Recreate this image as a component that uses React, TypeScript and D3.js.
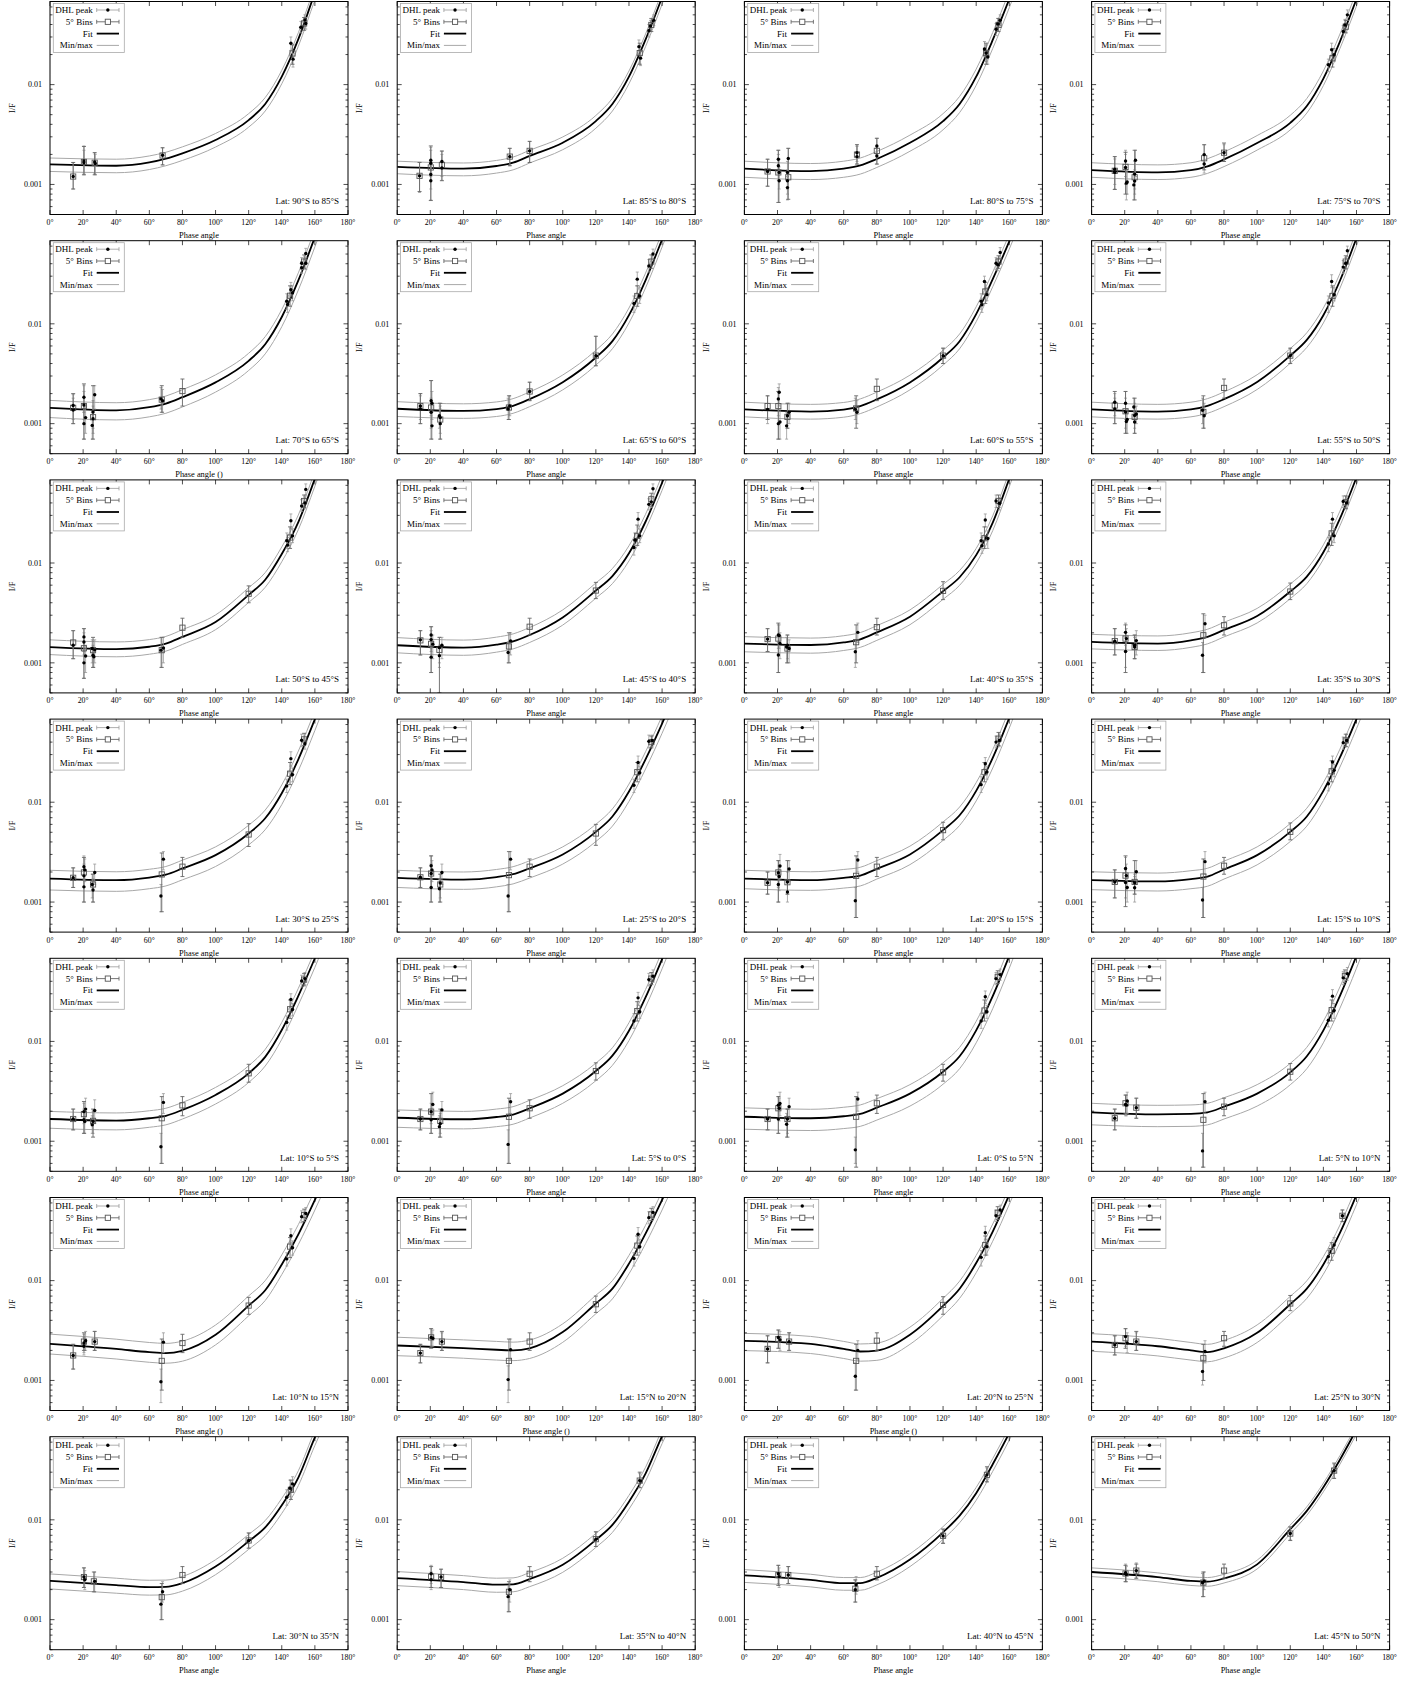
import React from "react";
import * as d3 from "d3";

// ---------------- data ----------------
const PHASE_GRID = [0, 40, 60, 70, 80, 100, 120, 130, 140, 150, 160, 170];
const X_TICKS = [0, 20, 40, 60, 80, 100, 120, 140, 160, 180];
const X_TICK_LABELS = ["0°", "20°", "40°", "60°", "80°", "100°", "120°", "140°", "160°", "180°"];
const Y_TICKS = [0.001, 0.01];
const Y_TICK_LABELS = ["0.001", "0.01"];
const LEGEND_LABELS = ["DHL peak", "5° Bins", "Fit", "Min/max"];

const LAT_LABELS = [
  "Lat: 90°S to 85°S", "Lat: 85°S to 80°S", "Lat: 80°S to 75°S", "Lat: 75°S to 70°S",
  "Lat: 70°S to 65°S", "Lat: 65°S to 60°S", "Lat: 60°S to 55°S", "Lat: 55°S to 50°S",
  "Lat: 50°S to 45°S", "Lat: 45°S to 40°S", "Lat: 40°S to 35°S", "Lat: 35°S to 30°S",
  "Lat: 30°S to 25°S", "Lat: 25°S to 20°S", "Lat: 20°S to 15°S", "Lat: 15°S to 10°S",
  "Lat: 10°S to 5°S", "Lat: 5°S to 0°S", "Lat: 0°S to 5°N", "Lat: 5°N to 10°N",
  "Lat: 10°N to 15°N", "Lat: 15°N to 20°N", "Lat: 20°N to 25°N", "Lat: 25°N to 30°N",
  "Lat: 30°N to 35°N", "Lat: 35°N to 40°N", "Lat: 40°N to 45°N", "Lat: 45°N to 50°N",
];

const X_LABELS = [
  "Phase angle", "Phase angle", "Phase angle", "Phase angle",
  "Phase angle ()", "Phase angle", "Phase angle", "Phase angle",
  "Phase angle", "Phase angle", "Phase angle", "Phase angle",
  "Phase angle", "Phase angle", "Phase angle", "Phase angle",
  "Phase angle", "Phase angle", "Phase angle", "Phase angle",
  "Phase angle ()", "Phase angle ()", "Phase angle ()", "Phase angle",
  "Phase angle", "Phase angle", "Phase angle", "Phase angle",
];

const FIT = [
  [0.00159, 0.00154, 0.00166, 0.00181, 0.00205, 0.00279, 0.00441, 0.0064, 0.012, 0.0285, 0.083, 0.23],
  [0.0015, 0.00144, 0.00153, 0.00165, 0.00193, 0.00262, 0.00431, 0.0064, 0.012, 0.0282, 0.075, 0.21],
  [0.00144, 0.00136, 0.00144, 0.00155, 0.0018, 0.00262, 0.0043, 0.0064, 0.012, 0.028, 0.072, 0.197],
  [0.00139, 0.00132, 0.00139, 0.00152, 0.00178, 0.0026, 0.00414, 0.0061, 0.0115, 0.027, 0.072, 0.204],
  [0.00144, 0.00136, 0.00146, 0.00159, 0.00184, 0.00259, 0.00426, 0.00625, 0.0117, 0.0272, 0.0738, 0.213],
  [0.00141, 0.00134, 0.0014, 0.00151, 0.00176, 0.0026, 0.0046, 0.0067, 0.0122, 0.0273, 0.07, 0.191],
  [0.00139, 0.00132, 0.00138, 0.0015, 0.00175, 0.00259, 0.0046, 0.0067, 0.0125, 0.028, 0.0668, 0.17],
  [0.00139, 0.00132, 0.00139, 0.00151, 0.00176, 0.00262, 0.0048, 0.0069, 0.0122, 0.027, 0.0721, 0.205],
  [0.00144, 0.00137, 0.00145, 0.00156, 0.00182, 0.00256, 0.0048, 0.0068, 0.0123, 0.0257, 0.07, 0.203],
  [0.0015, 0.00142, 0.00152, 0.00164, 0.0019, 0.00285, 0.0053, 0.0074, 0.0125, 0.0259, 0.0637, 0.168],
  [0.00156, 0.00151, 0.0016, 0.00172, 0.00202, 0.0029, 0.00522, 0.0072, 0.012, 0.0254, 0.07, 0.206],
  [0.00162, 0.00156, 0.00168, 0.00182, 0.00214, 0.00295, 0.00518, 0.0073, 0.0128, 0.0278, 0.0721, 0.199],
  [0.00172, 0.00166, 0.00176, 0.00188, 0.00217, 0.00295, 0.00486, 0.0069, 0.0123, 0.0269, 0.0679, 0.183],
  [0.00175, 0.00168, 0.00178, 0.0019, 0.00218, 0.003, 0.00505, 0.0072, 0.0128, 0.0269, 0.0614, 0.149],
  [0.00172, 0.00166, 0.00175, 0.00184, 0.00215, 0.003, 0.00525, 0.0074, 0.013, 0.0278, 0.07, 0.187],
  [0.00166, 0.00161, 0.0017, 0.0018, 0.00212, 0.00295, 0.00505, 0.0072, 0.013, 0.0281, 0.0681, 0.175],
  [0.00167, 0.00161, 0.0017, 0.0018, 0.00206, 0.00291, 0.00479, 0.007, 0.013, 0.0286, 0.0681, 0.172],
  [0.00172, 0.00166, 0.00175, 0.00185, 0.00214, 0.003, 0.00505, 0.0072, 0.0128, 0.0276, 0.0668, 0.172],
  [0.00176, 0.0017, 0.00178, 0.00188, 0.00217, 0.003, 0.00497, 0.0071, 0.0129, 0.0284, 0.0721, 0.194],
  [0.00195, 0.00186, 0.00188, 0.00195, 0.00222, 0.003, 0.0049, 0.0071, 0.0129, 0.0286, 0.0721, 0.193],
  [0.00233, 0.00207, 0.00192, 0.00188, 0.00198, 0.00287, 0.00562, 0.008, 0.0145, 0.0291, 0.0644, 0.151],
  [0.00224, 0.00211, 0.00203, 0.002, 0.0021, 0.00305, 0.0059, 0.0083, 0.0148, 0.0296, 0.0645, 0.149],
  [0.00249, 0.00232, 0.00207, 0.00195, 0.00199, 0.00287, 0.00558, 0.0083, 0.015, 0.031, 0.0725, 0.18],
  [0.00245, 0.0022, 0.002, 0.00192, 0.0021, 0.003, 0.0058, 0.0083, 0.0145, 0.03, 0.072, 0.18],
  [0.00245, 0.00222, 0.00212, 0.00213, 0.00232, 0.0034, 0.0061, 0.0084, 0.014, 0.0265, 0.067, 0.15],
  [0.00261, 0.00238, 0.00224, 0.00226, 0.00255, 0.00355, 0.0063, 0.0089, 0.0152, 0.029, 0.069, 0.15],
  [0.00278, 0.0025, 0.00232, 0.00232, 0.00262, 0.004, 0.0075, 0.011, 0.0185, 0.036, 0.074, 0.16],
  [0.003, 0.00267, 0.00244, 0.0024, 0.00259, 0.00358, 0.00806, 0.0123, 0.0212, 0.04, 0.08, 0.16],
];

const FIT_MAX = [
  [0.00184, 0.00179, 0.00193, 0.0021, 0.00238, 0.00324, 0.00512, 0.00742, 0.0139, 0.0331, 0.0963, 0.267],
  [0.00171, 0.00164, 0.00174, 0.00188, 0.0022, 0.00299, 0.00491, 0.0073, 0.0137, 0.0321, 0.0855, 0.239],
  [0.00171, 0.00162, 0.00171, 0.00184, 0.00214, 0.00312, 0.00512, 0.00762, 0.0143, 0.0333, 0.0857, 0.234],
  [0.00165, 0.00157, 0.00165, 0.00181, 0.00212, 0.00309, 0.00493, 0.00726, 0.0137, 0.0321, 0.0857, 0.243],
  [0.00171, 0.00162, 0.00174, 0.00189, 0.00219, 0.00308, 0.00507, 0.00744, 0.0139, 0.0324, 0.0878, 0.253],
  [0.00166, 0.00158, 0.00165, 0.00178, 0.00208, 0.00307, 0.00543, 0.00791, 0.0144, 0.0322, 0.0826, 0.225],
  [0.00164, 0.00156, 0.00163, 0.00177, 0.00207, 0.00306, 0.00543, 0.00791, 0.0148, 0.033, 0.0788, 0.201],
  [0.00164, 0.00156, 0.00164, 0.00178, 0.00208, 0.00309, 0.00566, 0.00814, 0.0144, 0.0319, 0.0851, 0.242],
  [0.0017, 0.00162, 0.00171, 0.00184, 0.00215, 0.00302, 0.00566, 0.00802, 0.0145, 0.0303, 0.0826, 0.24],
  [0.00179, 0.00169, 0.00181, 0.00195, 0.00226, 0.00339, 0.00631, 0.00881, 0.0149, 0.0308, 0.0758, 0.2],
  [0.00183, 0.00177, 0.00187, 0.00201, 0.00236, 0.00339, 0.00611, 0.00842, 0.014, 0.0297, 0.0819, 0.241],
  [0.00193, 0.00186, 0.002, 0.00217, 0.00255, 0.00351, 0.00616, 0.00869, 0.0152, 0.0331, 0.0858, 0.237],
  [0.00208, 0.00201, 0.00213, 0.00227, 0.00263, 0.00357, 0.00588, 0.00835, 0.0149, 0.0325, 0.0822, 0.221],
  [0.00208, 0.002, 0.00212, 0.00226, 0.00259, 0.00357, 0.00601, 0.00857, 0.0152, 0.032, 0.0731, 0.177],
  [0.00208, 0.00201, 0.00212, 0.00223, 0.0026, 0.00363, 0.00635, 0.00895, 0.0157, 0.0336, 0.0847, 0.226],
  [0.00201, 0.00195, 0.00206, 0.00218, 0.00257, 0.00357, 0.00611, 0.00871, 0.0157, 0.034, 0.0824, 0.212],
  [0.00199, 0.00192, 0.00202, 0.00214, 0.00245, 0.00346, 0.0057, 0.00833, 0.0155, 0.034, 0.081, 0.205],
  [0.00206, 0.00199, 0.0021, 0.00222, 0.00257, 0.0036, 0.00606, 0.00864, 0.0154, 0.0331, 0.0802, 0.206],
  [0.00216, 0.00209, 0.00219, 0.00231, 0.00267, 0.00369, 0.00611, 0.00873, 0.0159, 0.0349, 0.0887, 0.239],
  [0.0024, 0.00229, 0.00231, 0.0024, 0.00273, 0.00369, 0.00603, 0.00873, 0.0159, 0.0352, 0.0887, 0.237],
  [0.00291, 0.00259, 0.0024, 0.00235, 0.00248, 0.00359, 0.00703, 0.01, 0.0181, 0.0364, 0.0805, 0.189],
  [0.00271, 0.00255, 0.00246, 0.00242, 0.00254, 0.00369, 0.00714, 0.01, 0.0179, 0.0358, 0.078, 0.18],
  [0.00296, 0.00276, 0.00246, 0.00232, 0.00237, 0.00342, 0.00664, 0.00988, 0.0179, 0.0369, 0.0863, 0.214],
  [0.00294, 0.00264, 0.0024, 0.0023, 0.00252, 0.0036, 0.00696, 0.00996, 0.0174, 0.036, 0.0864, 0.216],
  [0.00287, 0.0026, 0.00248, 0.00249, 0.00271, 0.00398, 0.00714, 0.00983, 0.0164, 0.031, 0.0784, 0.176],
  [0.00303, 0.00276, 0.0026, 0.00262, 0.00296, 0.00412, 0.00731, 0.0103, 0.0176, 0.0336, 0.08, 0.174],
  [0.00317, 0.00285, 0.00264, 0.00264, 0.00299, 0.00456, 0.00855, 0.0125, 0.0211, 0.041, 0.0844, 0.182],
  [0.0033, 0.00294, 0.00268, 0.00264, 0.00285, 0.00394, 0.00887, 0.0135, 0.0233, 0.044, 0.088, 0.176],
];

const FIT_MIN = [
  [0.00135, 0.00131, 0.00141, 0.00154, 0.00174, 0.00237, 0.00375, 0.00544, 0.0102, 0.0242, 0.0706, 0.196],
  [0.00128, 0.00122, 0.0013, 0.0014, 0.00164, 0.00223, 0.00366, 0.00544, 0.0102, 0.024, 0.0638, 0.179],
  [0.00118, 0.00112, 0.00118, 0.00127, 0.00148, 0.00215, 0.00353, 0.00525, 0.00984, 0.023, 0.059, 0.162],
  [0.00118, 0.00112, 0.00118, 0.00129, 0.00151, 0.00221, 0.00352, 0.00519, 0.00978, 0.023, 0.0612, 0.173],
  [0.00115, 0.00109, 0.00117, 0.00127, 0.00147, 0.00207, 0.00341, 0.005, 0.00936, 0.0218, 0.059, 0.17],
  [0.00118, 0.00113, 0.00118, 0.00127, 0.00148, 0.00218, 0.00386, 0.00563, 0.0102, 0.0229, 0.0588, 0.16],
  [0.00117, 0.00111, 0.00116, 0.00126, 0.00147, 0.00218, 0.00386, 0.00563, 0.0105, 0.0235, 0.0561, 0.143],
  [0.00117, 0.00111, 0.00117, 0.00127, 0.00148, 0.0022, 0.00403, 0.0058, 0.0102, 0.0227, 0.0606, 0.172],
  [0.00121, 0.00115, 0.00122, 0.00131, 0.00153, 0.00215, 0.00403, 0.00571, 0.0103, 0.0216, 0.0588, 0.171],
  [0.00126, 0.00119, 0.00128, 0.00138, 0.0016, 0.00239, 0.00445, 0.00622, 0.0105, 0.0218, 0.0535, 0.141],
  [0.00129, 0.00125, 0.00133, 0.00143, 0.00168, 0.00241, 0.00433, 0.00598, 0.00996, 0.0211, 0.0581, 0.171],
  [0.00138, 0.00133, 0.00143, 0.00155, 0.00182, 0.00251, 0.0044, 0.00621, 0.0109, 0.0236, 0.0613, 0.169],
  [0.00132, 0.00128, 0.00136, 0.00145, 0.00167, 0.00227, 0.00374, 0.00531, 0.00947, 0.0207, 0.0523, 0.141],
  [0.0014, 0.00134, 0.00142, 0.00152, 0.00174, 0.0024, 0.00404, 0.00576, 0.0102, 0.0215, 0.0491, 0.119],
  [0.00136, 0.00131, 0.00138, 0.00145, 0.0017, 0.00237, 0.00415, 0.00585, 0.0103, 0.022, 0.0553, 0.148],
  [0.00133, 0.00129, 0.00136, 0.00144, 0.0017, 0.00236, 0.00404, 0.00576, 0.0104, 0.0225, 0.0545, 0.14],
  [0.00135, 0.0013, 0.00138, 0.00146, 0.00167, 0.00236, 0.00388, 0.00567, 0.0105, 0.0232, 0.0552, 0.139],
  [0.00138, 0.00133, 0.0014, 0.00148, 0.00171, 0.0024, 0.00404, 0.00576, 0.0102, 0.0221, 0.0534, 0.138],
  [0.00132, 0.00128, 0.00134, 0.00141, 0.00163, 0.00225, 0.00373, 0.00533, 0.00968, 0.0213, 0.0541, 0.146],
  [0.00146, 0.0014, 0.00141, 0.00146, 0.00167, 0.00225, 0.00368, 0.00533, 0.00968, 0.0215, 0.0541, 0.145],
  [0.00184, 0.00164, 0.00152, 0.00149, 0.00156, 0.00227, 0.00444, 0.00632, 0.0115, 0.023, 0.0509, 0.119],
  [0.00177, 0.00167, 0.0016, 0.00158, 0.00166, 0.00241, 0.00466, 0.00656, 0.0117, 0.0234, 0.051, 0.118],
  [0.00199, 0.00186, 0.00166, 0.00156, 0.00159, 0.0023, 0.00446, 0.00664, 0.012, 0.0248, 0.058, 0.144],
  [0.00196, 0.00176, 0.0016, 0.00154, 0.00168, 0.0024, 0.00464, 0.00664, 0.0116, 0.024, 0.0576, 0.144],
  [0.00203, 0.00184, 0.00176, 0.00177, 0.00193, 0.00282, 0.00506, 0.00697, 0.0116, 0.022, 0.0556, 0.125],
  [0.00219, 0.002, 0.00188, 0.0019, 0.00214, 0.00298, 0.00529, 0.00748, 0.0128, 0.0244, 0.058, 0.126],
  [0.00236, 0.00213, 0.00197, 0.00197, 0.00223, 0.0034, 0.00638, 0.00935, 0.0157, 0.0306, 0.0629, 0.136],
  [0.0027, 0.0024, 0.0022, 0.00216, 0.00233, 0.00322, 0.00725, 0.0111, 0.0191, 0.036, 0.072, 0.144],
];

// [phase, I/F, lower, upper]
const PEAKS = [
  [[14, .0012, .0009, .00166], [20.5, .00172, .0013, .00243], [20.5, .00165, .00125, .0022], [27, .00168, .00128, .00208], [27.3, .00162, .00125, .002], [68, .00196, .00157, .00233], [145.5, .026, .022, .03], [146.8, .018, .015, .0205], [151.5, .0376, .033, .043], [154, .0445, .039, .05], [154.5, .041, .036, .047]],
  [[13.5, .00122, .00083, .00166], [20.3, .00175, .0013, .00235], [20.3, .00163, .0012, .0022], [20.3, .00126, .0009, .0017], [20.3, .00109, .0007, .0015], [27, .0017, .0012, .00216], [27, .00146, .0011, .002], [68, .0019, .00154, .0023], [80, .00217, .00166, .0027], [146, .024, .02, .028], [147, .0184, .0155, .022], [152, .0346, .03, .04], [153, .0387, .034, .044], [155, .044, .039, .05]],
  [[14, .00135, .00096, .00179], [20.5, .00179, .0013, .0022], [20.5, .00154, .0011, .002], [21, .00132, .0009, .0018], [21, .00109, .00066, .0015], [26.5, .00182, .0013, .0023], [26, .00132, .0009, .0017], [26, .00109, .0008, .0014], [26, .00093, .0007, .0012], [68, .00208, .0017, .0025], [68, .0019, .0016, .0024], [80, .00243, .002, .0029], [80, .00193, .0016, .0023], [145, .0227, .019, .027], [146, .0207, .017, .025], [147, .0189, .016, .022], [152, .0358, .031, .041], [153, .0405, .035, .046], [154.5, .044, .039, .05]],
  [[14, .00142, .001, .0019], [14, .00132, .0009, .0018], [20.5, .00172, .0012, .0022], [20.5, .00148, .001, .002], [21, .00103, .0007, .0014], [21.5, .00106, .0008, .0014], [26.5, .00175, .0012, .0022], [26, .00127, .0009, .0017], [26, .00108, .0008, .0014], [25.5, .00099, .0007, .0013], [68, .00199, .0016, .0025], [68, .0016, .0013, .002], [80, .00208, .0017, .0025], [143, .0158, .0135, .018], [145, .0223, .019, .026], [146.5, .0199, .017, .023], [152, .034, .03, .039], [153, .0396, .035, .045], [154.5, .05, .044, .056]],
  [[14, .00152, .0011, .00195], [14, .00137, .001, .0018], [20.5, .00184, .0013, .0024], [20.5, .00154, .0011, .0021], [20.5, .001, .0007, .0013], [21.5, .00115, .0008, .0015], [26, .00112, .0008, .0015], [25.5, .00096, .0007, .0013], [26, .00131, .0009, .0017], [27, .00195, .0014, .0024], [67, .00177, .0014, .0023], [68, .0017, .0013, .0022], [143, .0168, .014, .02], [143.5, .0156, .013, .0185], [145.5, .0219, .019, .026], [146.5, .0205, .017, .024], [152, .0404, .035, .046], [152, .0365, .032, .042], [154.5, .0507, .044, .057], [154.5, .0404, .035, .046]],
  [[14, .0015, .0011, .002], [14, .0014, .001, .0019], [20.5, .0017, .0012, .0027], [20.5, .0013, .0009, .0018], [21, .00095, .0007, .0013], [21, .0016, .0011, .0021], [25.5, .0012, .0009, .0016], [26, .001, .0007, .0014], [26, .00115, .0008, .0015], [67, .0014, .0011, .0018], [68, .0015, .0012, .0019], [80, .0021, .0017, .0026], [120, .0048, .0038, .0075], [143, .016, .013, .019], [145, .028, .024, .033], [146.5, .019, .016, .023], [152, .038, .033, .044], [154.5, .05, .044, .056]],
  [[14, .00139, .001, .0019], [20.5, .00177, .0012, .0023], [21, .00206, .0015, .0025], [20.5, .001, .0007, .0014], [21.5, .00104, .0007, .0014], [25.5, .00095, .0007, .0013], [26, .0012, .0009, .0016], [27, .0013, .001, .0016], [67, .00139, .0011, .0018], [68, .0013, .001, .0017], [120, .0048, .004, .0057], [143, .0168, .014, .02], [143.5, .0155, .013, .018], [145, .0265, .022, .03], [146.5, .0196, .017, .023], [152, .0404, .035, .046], [153, .039, .034, .045], [154.5, .0518, .045, .058]],
  [[14, .00164, .0012, .002], [14, .0014, .001, .0018], [20.5, .0016, .0011, .0021], [20.5, .00131, .0009, .0018], [21, .00105, .0008, .0014], [21.5, .0011, .0008, .0014], [25.5, .00147, .0011, .0018], [26, .00121, .0009, .0016], [26, .00104, .0008, .0013], [27, .00125, .001, .0015], [67, .00136, .001, .0018], [68, .0012, .0009, .0016], [120, .0048, .004, .0057], [143, .0162, .013, .019], [145, .0265, .023, .031], [146.5, .0196, .017, .023], [152, .037, .032, .043], [154.5, .054, .047, .06], [153.5, .0404, .035, .046]],
  [[14, .0015, .0011, .0021], [20.5, .00182, .0013, .0022], [20.5, .00162, .0012, .002], [20.5, .001, .0007, .0013], [21.5, .00117, .0008, .0015], [25.5, .00139, .001, .0017], [26, .00119, .0009, .0015], [26.5, .00115, .0009, .0014], [27, .00135, .001, .0017], [67, .00134, .0009, .0018], [68.5, .00141, .001, .0018], [143, .0167, .014, .02], [143.5, .0151, .013, .018], [145.5, .0265, .022, .031], [146.5, .0187, .016, .022], [152, .0373, .033, .043], [154, .04, .035, .046], [154.5, .0546, .048, .062]],
  [[14, .0017, .0012, .0021], [20.5, .0019, .0014, .0023], [20.5, .00171, .0013, .0021], [20.5, .00114, .0008, .0015], [21.5, .00154, .0011, .0019], [25.5, .00142, .001, .0018], [25.5, .00118, .0009, .0015], [27, .0015, .0011, .0018], [67, .00127, .001, .0016], [68.5, .00166, .0012, .002], [143, .0143, .012, .017], [143.5, .017, .014, .02], [145.5, .0275, .023, .032], [146.5, .0187, .016, .022], [152, .0387, .034, .044], [153.5, .041, .036, .047], [154.5, .0555, .049, .062]],
  [[14, .00173, .0013, .0022], [20.5, .0019, .0014, .0024], [21, .00188, .0014, .0024], [20.5, .0012, .0008, .0016], [21.5, .00156, .0011, .002], [25.5, .00144, .001, .0018], [26, .0015, .0011, .0019], [27, .00139, .001, .0017], [67, .00129, .0009, .0017], [68.5, .00202, .0016, .0025], [143, .0167, .014, .02], [143.5, .0149, .0125, .018], [145.5, .027, .023, .031], [147, .0176, .014, .021], [152, .0418, .036, .048], [154, .0397, .034, .045]],
  [[14, .00165, .0012, .0022], [20.5, .00202, .0015, .0025], [21, .00175, .0013, .0022], [20.5, .0013, .0009, .0018], [26, .00144, .0011, .0018], [27, .00167, .0012, .0021], [26, .0015, .0011, .0019], [67, .00119, .0008, .0016], [68.5, .00246, .0018, .003], [143, .0155, .013, .018], [145.5, .0275, .023, .032], [146.5, .0187, .016, .022], [152, .0414, .036, .047], [154, .04, .035, .046]],
  [[14, .00175, .0014, .0022], [20.5, .00226, .0017, .0029], [20.5, .00183, .0014, .0024], [20.5, .00142, .001, .0019], [21, .0021, .0016, .0027], [25.5, .0015, .0011, .0019], [26, .00132, .001, .0017], [27, .00198, .0015, .0024], [67, .00115, .0008, .0015], [68.5, .00269, .0021, .0032], [143, .0145, .0125, .017], [145.5, .0273, .023, .032], [146.5, .0189, .016, .022], [152, .0417, .036, .048], [154, .0385, .034, .044]],
  [[14, .00177, .0014, .0022], [20.5, .00231, .0017, .0029], [20.5, .00193, .0014, .0024], [20.5, .0014, .001, .0019], [21, .0021, .0016, .0026], [25.5, .00136, .001, .0017], [26, .00155, .0011, .0019], [27, .00198, .0015, .0024], [67, .00115, .0008, .0015], [68.5, .00269, .0021, .0032], [143, .0148, .0125, .017], [145.5, .025, .021, .029], [146.5, .0197, .017, .023], [152, .0407, .035, .047], [154, .0415, .036, .047]],
  [[14, .00156, .0012, .002], [20.5, .00197, .0014, .0026], [21.5, .0023, .0017, .003], [20.5, .0015, .001, .0019], [21, .0018, .0013, .0023], [26, .00159, .0012, .002], [27, .00214, .0016, .0026], [26, .00126, .001, .0016], [67, .00103, .0007, .0014], [68.5, .00264, .002, .0032], [143, .015, .0125, .018], [145.5, .0243, .021, .028], [146.5, .0201, .017, .023], [152, .04, .035, .046], [154, .0416, .036, .048]],
  [[14, .00159, .0011, .0021], [20.5, .00217, .0016, .0028], [21, .00184, .0013, .0024], [20.5, .00157, .0011, .0021], [21.5, .0014, .001, .0018], [26, .00156, .0012, .0019], [26, .00139, .001, .0018], [27, .00201, .0015, .0026], [67, .00105, .0007, .0014], [68.5, .00254, .0019, .0032], [143, .0153, .013, .018], [145.5, .0253, .022, .029], [146.5, .0209, .018, .024], [152, .0395, .034, .045], [154, .0416, .036, .048]],
  [[14, .00167, .0013, .0021], [20.5, .00198, .0015, .0024], [21.5, .0021, .0016, .0027], [20.5, .00164, .0012, .0021], [21, .00158, .0012, .002], [25.5, .00146, .0012, .0018], [27, .00203, .0015, .0026], [26, .00158, .0012, .002], [67, .00088, .0006, .0012], [68.5, .00245, .0019, .003], [143, .0155, .013, .018], [145.5, .0263, .022, .03], [146.5, .0209, .018, .024], [152, .0404, .035, .046], [154, .0426, .037, .049]],
  [[14, .00167, .0013, .0021], [20.5, .00198, .0015, .0024], [21.5, .00234, .0018, .0031], [20.5, .00164, .0012, .0021], [25.5, .0014, .0011, .0018], [27, .00206, .0015, .0025], [26, .0015, .0012, .0019], [67, .00093, .0006, .0013], [68.5, .00249, .0019, .003], [143, .016, .0135, .019], [145.5, .0273, .023, .031], [146.5, .0198, .017, .023], [152, .0416, .036, .048], [154.5, .045, .039, .052]],
  [[14, .00167, .0013, .0021], [20.5, .0023, .0017, .0028], [21.5, .00239, .0018, .0031], [20.5, .00167, .0012, .0022], [21, .00214, .0016, .0027], [25.5, .00148, .0011, .0019], [27, .00222, .0017, .0027], [26, .00167, .0012, .0021], [67, .00082, .0006, .0011], [68.5, .00265, .002, .0031], [143, .016, .0135, .019], [145.5, .028, .024, .032], [146.5, .0198, .017, .023], [152, .0426, .037, .049], [154.5, .0467, .041, .053]],
  [[14, .0017, .0013, .0021], [20.5, .00234, .0018, .0029], [21.5, .00253, .0019, .0031], [21, .0023, .0018, .0029], [27, .00217, .0017, .0027], [67, .0008, .00055, .0012], [68.5, .00249, .0019, .0031], [143, .0163, .014, .019], [145.5, .0284, .024, .033], [146.5, .0204, .017, .024], [152, .0433, .037, .05], [154.5, .0477, .041, .055]],
  [[14, .00178, .0013, .0023], [20.5, .00237, .0019, .0029], [21.5, .0025, .002, .0031], [20.5, .0022, .0018, .0027], [27, .00245, .002, .0031], [67, .00097, .0006, .0013], [68.5, .00242, .0019, .003], [143, .0165, .014, .019], [145.5, .0282, .024, .033], [146.5, .0214, .018, .025], [152, .0437, .038, .05], [154.5, .047, .041, .054]],
  [[14, .00188, .0015, .0023], [20.5, .0027, .0022, .0033], [21.5, .00265, .0022, .0032], [27, .00245, .002, .003], [67, .00102, .0006, .0014], [68.5, .00203, .0016, .0026], [143, .0167, .014, .019], [145.5, .0291, .025, .034], [146.5, .0219, .019, .026], [152, .0427, .037, .049], [154.5, .0482, .042, .055]],
  [[14, .00207, .0015, .0028], [20.5, .00269, .0021, .0032], [21.5, .00255, .002, .0031], [27, .00245, .002, .003], [67, .0011, .0008, .0015], [68.5, .002, .0016, .0025], [143, .0171, .014, .02], [145.5, .0302, .026, .035], [146.5, .0219, .018, .026], [152, .0447, .039, .051], [154.5, .0509, .044, .057]],
  [[14, .00227, .0018, .0028], [20.5, .00275, .0022, .0033], [21.5, .00237, .0019, .003], [27, .00245, .002, .003], [67, .00123, .0009, .0016], [68.5, .00195, .0015, .0025], [143, .0174, .015, .02], [146.5, .0227, .019, .027], [151.5, .0446, .039, .051]],
  [[20.5, .00267, .0021, .0033], [21, .00251, .002, .0031], [27, .00242, .0019, .003], [67, .00143, .001, .0018], [68, .0019, .0015, .0024], [120, .0062, .0052, .0073], [143, .0168, .014, .02], [145, .0207, .017, .025], [146.5, .0229, .019, .027]],
  [[20.5, .00288, .0023, .0035], [20.5, .00251, .002, .003], [26.5, .00267, .0021, .0032], [67, .0017, .0012, .0022], [68, .00199, .0015, .0025], [120, .0064, .0054, .0075], [146.5, .0247, .021, .029]],
  [[20.5, .00288, .0023, .0035], [21, .0027, .0021, .0033], [26.5, .0028, .0023, .0034], [67, .00199, .0015, .0025], [67.5, .00224, .0018, .0027], [120, .0069, .0059, .008], [146.5, .0282, .024, .033]],
  [[20.5, .00295, .0024, .0036], [21, .00284, .0024, .0034], [27, .0031, .0026, .0037], [67, .00234, .0017, .0029], [68, .00243, .002, .003], [120, .0073, .0063, .0084], [146.5, .0311, .026, .036]],
];

const BINS = [
  [[14, .0012, .0009, .00166], [20.5, .00168, .00125, .0024], [27, .00165, .00125, .00208], [68, .00195, .00157, .00233], [146.5, .0205, .016, .025], [153.5, .041, .035, .047]],
  [[13.5, .00122, .00085, .00166], [20.3, .00148, .00069, .00243], [27, .00157, .00109, .00216], [68, .0019, .00154, .0023], [80, .00217, .00166, .0027], [146.5, .0207, .016, .026], [153.5, .0396, .034, .046]],
  [[14, .00135, .00096, .00179], [20.5, .00132, .00066, .0022], [26.5, .00118, .00071, .0023], [68, .00199, .0016, .0025], [80, .00217, .0016, .0029], [146, .0207, .016, .026], [153.5, .0396, .034, .046]],
  [[14, .00137, .00089, .0019], [20.5, .0015, .0008, .0021], [26, .00118, .0007, .0022], [68, .00183, .0014, .0025], [80, .00208, .0017, .0026], [145.5, .0184, .015, .023], [153.5, .038, .033, .044]],
  [[14, .00144, .001, .002], [20.5, .0015, .0007, .0025], [26, .00116, .0007, .0024], [67.5, .00174, .0013, .0024], [80, .00212, .0015, .0028], [145, .0191, .015, .024], [153.5, .042, .036, .049]],
  [[14, .0015, .001, .002], [20.5, .00145, .0007, .0027], [26, .0011, .0007, .0016], [67.5, .00145, .0011, .0019], [80, .0021, .0017, .0026], [120, .0048, .0038, .0075], [145, .019, .015, .024], [153.5, .042, .036, .049]],
  [[14, .0015, .0011, .0019], [20.5, .0015, .0007, .0021], [26, .00117, .0009, .0016], [67.5, .00142, .0009, .0019], [80, .00223, .0017, .0028], [120, .0048, .004, .0057], [145.5, .0211, .016, .026], [153.5, .042, .036, .048]],
  [[14, .00152, .001, .0021], [20.5, .00133, .0008, .0021], [26, .00117, .0008, .0018], [67.5, .00131, .0009, .0019], [80, .00228, .0018, .0028], [120, .0048, .004, .0057], [145.5, .019, .015, .024], [153.5, .042, .036, .048]],
  [[14, .0016, .0011, .0021], [20.5, .0014, .0007, .0022], [26, .00134, .0009, .0018], [67.5, .00134, .0009, .0018], [80, .00225, .0018, .0028], [120, .00492, .004, .0059], [145, .018, .014, .023], [153.5, .0418, .036, .048]],
  [[14, .00168, .0012, .0021], [20.5, .00155, .0008, .0023], [25.5, .00135, .0005, .0018], [67.5, .00146, .001, .002], [80, .0023, .0019, .0028], [120, .0053, .0044, .0064], [145, .0187, .015, .024], [153.5, .0435, .037, .05]],
  [[14, .00173, .0013, .0022], [20.5, .00175, .0008, .0025], [26, .00139, .001, .0019], [67.5, .00161, .001, .0024], [80, .00228, .0019, .0028], [120, .00526, .0043, .0065], [145, .0177, .014, .023], [153.5, .0418, .036, .048]],
  [[14, .00165, .0012, .0022], [20.5, .00175, .0008, .0024], [26, .00144, .0011, .0019], [67.5, .00189, .0008, .0031], [80, .00238, .0019, .0029], [120, .00518, .0043, .0063], [145, .0198, .015, .025], [153.5, .0406, .035, .047]],
  [[14, .00175, .0014, .0022], [20.5, .00198, .001, .0028], [26, .0015, .001, .0019], [67.5, .00189, .0008, .0031], [80, .00226, .0018, .0028], [120, .00475, .0036, .0061], [145, .0193, .015, .025], [153.5, .0426, .037, .049]],
  [[14, .00177, .0014, .0022], [20.5, .00193, .001, .0029], [26, .0015, .001, .0019], [67.5, .00186, .0008, .0032], [80, .00226, .0018, .0027], [120, .00486, .0037, .006], [145, .02, .016, .025], [153.5, .04, .035, .046]],
  [[14, .00156, .0012, .002], [20.5, .00198, .001, .0026], [26, .00158, .0012, .0026], [67.5, .00183, .0007, .0029], [80, .00226, .0018, .0028], [120, .00525, .0042, .0063], [145, .02, .016, .025], [153.5, .0433, .037, .05]],
  [[14, .00159, .0011, .0021], [20.5, .00184, .0009, .0029], [26, .00159, .0012, .0026], [67.5, .0018, .0007, .0027], [80, .00231, .0019, .0028], [120, .00505, .0042, .0062], [145, .0204, .016, .026], [153.5, .0416, .036, .048]],
  [[14, .00167, .0013, .0021], [20.5, .00187, .0012, .0025], [26, .0016, .0011, .0021], [67.5, .0017, .0006, .0028], [80, .00229, .0018, .0028], [120, .00479, .0039, .0059], [145, .021, .017, .026], [153.5, .0416, .036, .048]],
  [[14, .00167, .0013, .0021], [20.5, .00198, .0012, .003], [26, .0016, .0011, .0021], [67.5, .00176, .0006, .0027], [80, .00214, .0017, .0026], [120, .00505, .0041, .0061], [145, .0201, .016, .025], [153.5, .0426, .037, .049]],
  [[14, .00167, .0013, .0021], [20.5, .00214, .0012, .0028], [26, .00167, .0011, .0021], [67.5, .00176, .00055, .0028], [80, .0024, .0019, .0029], [120, .0049, .004, .0059], [145, .0204, .016, .026], [153, .0443, .038, .051]],
  [[14, .0017, .0013, .0021], [20.5, .0024, .0019, .0029], [27, .00217, .0017, .0027], [67.5, .00164, .00055, .003], [80, .00222, .0018, .0027], [120, .00497, .0041, .006], [145, .0206, .016, .026], [153, .0453, .039, .052]],
  [[14, .00178, .0013, .0023], [20.5, .00245, .002, .003], [27, .00245, .002, .0031], [67.5, .00157, .0008, .0026], [80, .00237, .0019, .0029], [120, .00562, .0046, .0068], [145, .0219, .017, .027], [153.5, .0453, .039, .052]],
  [[14, .00188, .0015, .0023], [20.5, .0027, .0021, .0033], [27, .00245, .002, .0031], [67.5, .00157, .0008, .0026], [80, .00245, .002, .003], [120, .0058, .0048, .007], [145, .0224, .018, .028], [153.5, .046, .04, .053]],
  [[14, .00207, .0015, .0028], [20.5, .0026, .0021, .0032], [27, .00245, .002, .003], [67.5, .00157, .0008, .0023], [80, .0025, .002, .003], [120, .00571, .0046, .0069], [145.5, .0227, .018, .028], [153, .0478, .041, .055]],
  [[14, .00227, .0018, .0028], [20.5, .00265, .0021, .0033], [27, .00245, .002, .0031], [67.5, .00167, .001, .0023], [80, .00265, .0022, .0031], [120, .0059, .005, .0071], [145, .0198, .016, .024], [151.5, .0446, .039, .051]],
  [[20.5, .00267, .0021, .0033], [26.5, .00242, .0019, .003], [67.5, .00168, .001, .0023], [80, .0028, .0023, .0034], [120, .00621, .0052, .0074], [145.5, .02, .016, .025]],
  [[20.5, .0027, .0021, .0034], [26.5, .00267, .0021, .0032], [67.5, .0019, .0012, .0024], [80, .00288, .0024, .0034], [120, .0064, .0054, .0076], [146.5, .0247, .021, .03]],
  [[20.5, .0028, .0022, .0035], [26.5, .0028, .0023, .0034], [67, .00204, .0015, .0025], [80, .00288, .0025, .0034], [120, .00692, .0058, .0081], [146.5, .0282, .024, .034]],
  [[20.5, .0029, .0024, .0035], [27, .0031, .0026, .0036], [67.5, .00235, .0017, .003], [80, .0031, .0026, .0036], [120, .00728, .0062, .0085], [146.5, .0311, .026, .037]],
];

// ---------------- layout ----------------
const SVG_W = 1421;
const SVG_H = 1681;
const PW = 298;
const PH = 213;
const COL_X = [50, 397.2, 744.4, 1091.6];
const ROW_Y = [1.5, 240.7, 479.9, 719.1, 958.3, 1197.5, 1436.7];
const FONT = "'Liberation Serif', 'DejaVu Serif', 'Times New Roman', serif";
const MINMAX_COLOR = "#a8a8a8";
const PEAK_BAR_COLOR = "#999999";
const BIN_COLOR = "#666666";

function Panel({ i }: { i: number }) {
  const left = COL_X[i % 4];
  const top = ROW_Y[Math.floor(i / 4)];
  const right = left + PW;
  const bottom = top + PH;
  const x = d3.scaleLinear().domain([0, 180]).range([left, right]);
  const y = d3.scaleLog().domain([0.0005, 0.068]).range([bottom, top]);
  const line = d3
    .line<[number, number]>()
    .x((d) => x(d[0]))
    .y((d) => y(d[1]))
    .curve(d3.curveMonotoneX);
  const fitPts = PHASE_GRID.map((p, k) => [p, FIT[i][k]] as [number, number]);
  const maxPts = PHASE_GRID.map((p, k) => [p, FIT_MAX[i][k]] as [number, number]);
  const minPts = PHASE_GRID.map((p, k) => [p, FIT_MIN[i][k]] as [number, number]);
  const clipId = `clip-${i}`;
  const yTicks = y.ticks();
  const isMajor = (v: number) => Math.abs(Math.log10(v) - Math.round(Math.log10(v))) < 1e-6;

  const legendX = left + 3.3;
  const legendY = top + 2;
  const rowY = (k: number) => top + 8.5 + k * 11.8;
  const sx1 = left + 46.7;
  const sx2 = left + 69;
  const sxm = (sx1 + sx2) / 2;

  return (
    <g>
      <defs>
        <clipPath id={clipId}>
          <rect x={left} y={top} width={PW} height={PH} />
        </clipPath>
      </defs>
      <rect x={left} y={top} width={PW} height={PH} fill="#fff" />

      <g clipPath={`url(#${clipId})`}>
        <path d={line(maxPts) || ""} fill="none" stroke={MINMAX_COLOR} strokeWidth={1} />
        <path d={line(minPts) || ""} fill="none" stroke={MINMAX_COLOR} strokeWidth={1} />
        <path d={line(fitPts) || ""} fill="none" stroke="#000" strokeWidth={1.8} />
        {PEAKS[i].map((p, k) => {
          const px = x(p[0]);
          return (
            <g key={`pe${k}`} stroke={PEAK_BAR_COLOR} strokeWidth={0.8}>
              <line x1={px} x2={px} y1={y(p[2])} y2={y(p[3])} />
              <line x1={px - 1.5} x2={px + 1.5} y1={y(p[2])} y2={y(p[2])} />
              <line x1={px - 1.5} x2={px + 1.5} y1={y(p[3])} y2={y(p[3])} />
            </g>
          );
        })}
        {BINS[i].map((b, k) => {
          const bx = x(b[0]);
          return (
            <g key={`be${k}`} stroke={BIN_COLOR} strokeWidth={0.9}>
              <line x1={bx} x2={bx} y1={y(b[2])} y2={y(b[3])} />
              <line x1={bx - 2} x2={bx + 2} y1={y(b[2])} y2={y(b[2])} />
              <line x1={bx - 2} x2={bx + 2} y1={y(b[3])} y2={y(b[3])} />
            </g>
          );
        })}
        {BINS[i].map((b, k) => (
          <rect
            key={`bs${k}`}
            x={x(b[0]) - 2.6}
            y={y(b[1]) - 2.6}
            width={5.2}
            height={5.2}
            fill="none"
            stroke="#555"
            strokeWidth={0.9}
          />
        ))}
        {PEAKS[i].map((p, k) => (
          <circle key={`pd${k}`} cx={x(p[0])} cy={y(p[1])} r={1.7} fill="#000" />
        ))}
      </g>

      {/* ticks */}
      {yTicks.map((v, k) => {
        const len = isMajor(v) ? 4.5 : 2.5;
        const yy = y(v);
        return (
          <g key={`yt${k}`} stroke="#000" strokeWidth={0.7}>
            <line x1={left} x2={left + len} y1={yy} y2={yy} />
            <line x1={right} x2={right - len} y1={yy} y2={yy} />
          </g>
        );
      })}
      {X_TICKS.map((t, k) => (
        <g key={`xt${k}`} stroke="#000" strokeWidth={0.7}>
          <line x1={x(t)} x2={x(t)} y1={bottom} y2={bottom - 4.5} />
          <line x1={x(t)} x2={x(t)} y1={top} y2={top + 4.5} />
        </g>
      ))}
      <rect x={left} y={top} width={PW} height={PH} fill="none" stroke="#000" strokeWidth={1} />

      {/* tick labels */}
      {Y_TICKS.map((v, k) => (
        <text key={`yl${k}`} x={left - 8} y={y(v) + 2.7} textAnchor="end" fontSize={8} fontFamily={FONT}>
          {Y_TICK_LABELS[k]}
        </text>
      ))}
      {X_TICKS.map((t, k) => (
        <text key={`xl${k}`} x={x(t)} y={bottom + 10.5} textAnchor="middle" fontSize={7.8} fontFamily={FONT}>
          {X_TICK_LABELS[k]}
        </text>
      ))}
      <text x={(left + right) / 2} y={bottom + 23.5} textAnchor="middle" fontSize={8.4} fontFamily={FONT}>
        {X_LABELS[i]}
      </text>
      <text
        transform={`translate(${left - 35.5},${(top + bottom) / 2}) rotate(-90)`}
        textAnchor="middle"
        fontSize={8.4}
        fontFamily={FONT}
      >
        I/F
      </text>
      <text x={right - 9} y={bottom - 10.5} textAnchor="end" fontSize={9} fontFamily={FONT}>
        {LAT_LABELS[i]}
      </text>

      {/* legend */}
      <rect x={legendX} y={legendY} width={71} height={49} fill="#fff" stroke="#aaa" strokeWidth={0.8} />
      {LEGEND_LABELS.map((lab, k) => (
        <text key={`lg${k}`} x={left + 42.7} y={rowY(k) + 3} textAnchor="end" fontSize={9} fontFamily={FONT}>
          {lab}
        </text>
      ))}
      <g stroke={PEAK_BAR_COLOR} strokeWidth={0.8}>
        <line x1={sx1} x2={sx2} y1={rowY(0)} y2={rowY(0)} />
        <line x1={sx1} x2={sx1} y1={rowY(0) - 2} y2={rowY(0) + 2} />
        <line x1={sx2} x2={sx2} y1={rowY(0) - 2} y2={rowY(0) + 2} />
      </g>
      <circle cx={sxm} cy={rowY(0)} r={1.7} fill="#000" />
      <g stroke={BIN_COLOR} strokeWidth={0.9}>
        <line x1={sx1} x2={sx2} y1={rowY(1)} y2={rowY(1)} />
        <line x1={sx1} x2={sx1} y1={rowY(1) - 2} y2={rowY(1) + 2} />
        <line x1={sx2} x2={sx2} y1={rowY(1) - 2} y2={rowY(1) + 2} />
      </g>
      <rect x={sxm - 2.6} y={rowY(1) - 2.6} width={5.2} height={5.2} fill="#fff" stroke="#555" strokeWidth={0.9} />
      <line x1={sx1} x2={sx2} y1={rowY(2)} y2={rowY(2)} stroke="#000" strokeWidth={1.8} />
      <line x1={sx1} x2={sx2} y1={rowY(3)} y2={rowY(3)} stroke={MINMAX_COLOR} strokeWidth={1} />
    </g>
  );
}

export default function App() {
  return (
    <svg
      width={SVG_W}
      height={SVG_H}
      viewBox={`0 0 ${SVG_W} ${SVG_H}`}
      style={{ position: "absolute", left: 0, top: 0, display: "block", background: "#fff" }}
    >
      <rect x={0} y={0} width={SVG_W} height={SVG_H} fill="#fff" />
      {LAT_LABELS.map((_, i) => (
        <Panel key={i} i={i} />
      ))}
    </svg>
  );
}
